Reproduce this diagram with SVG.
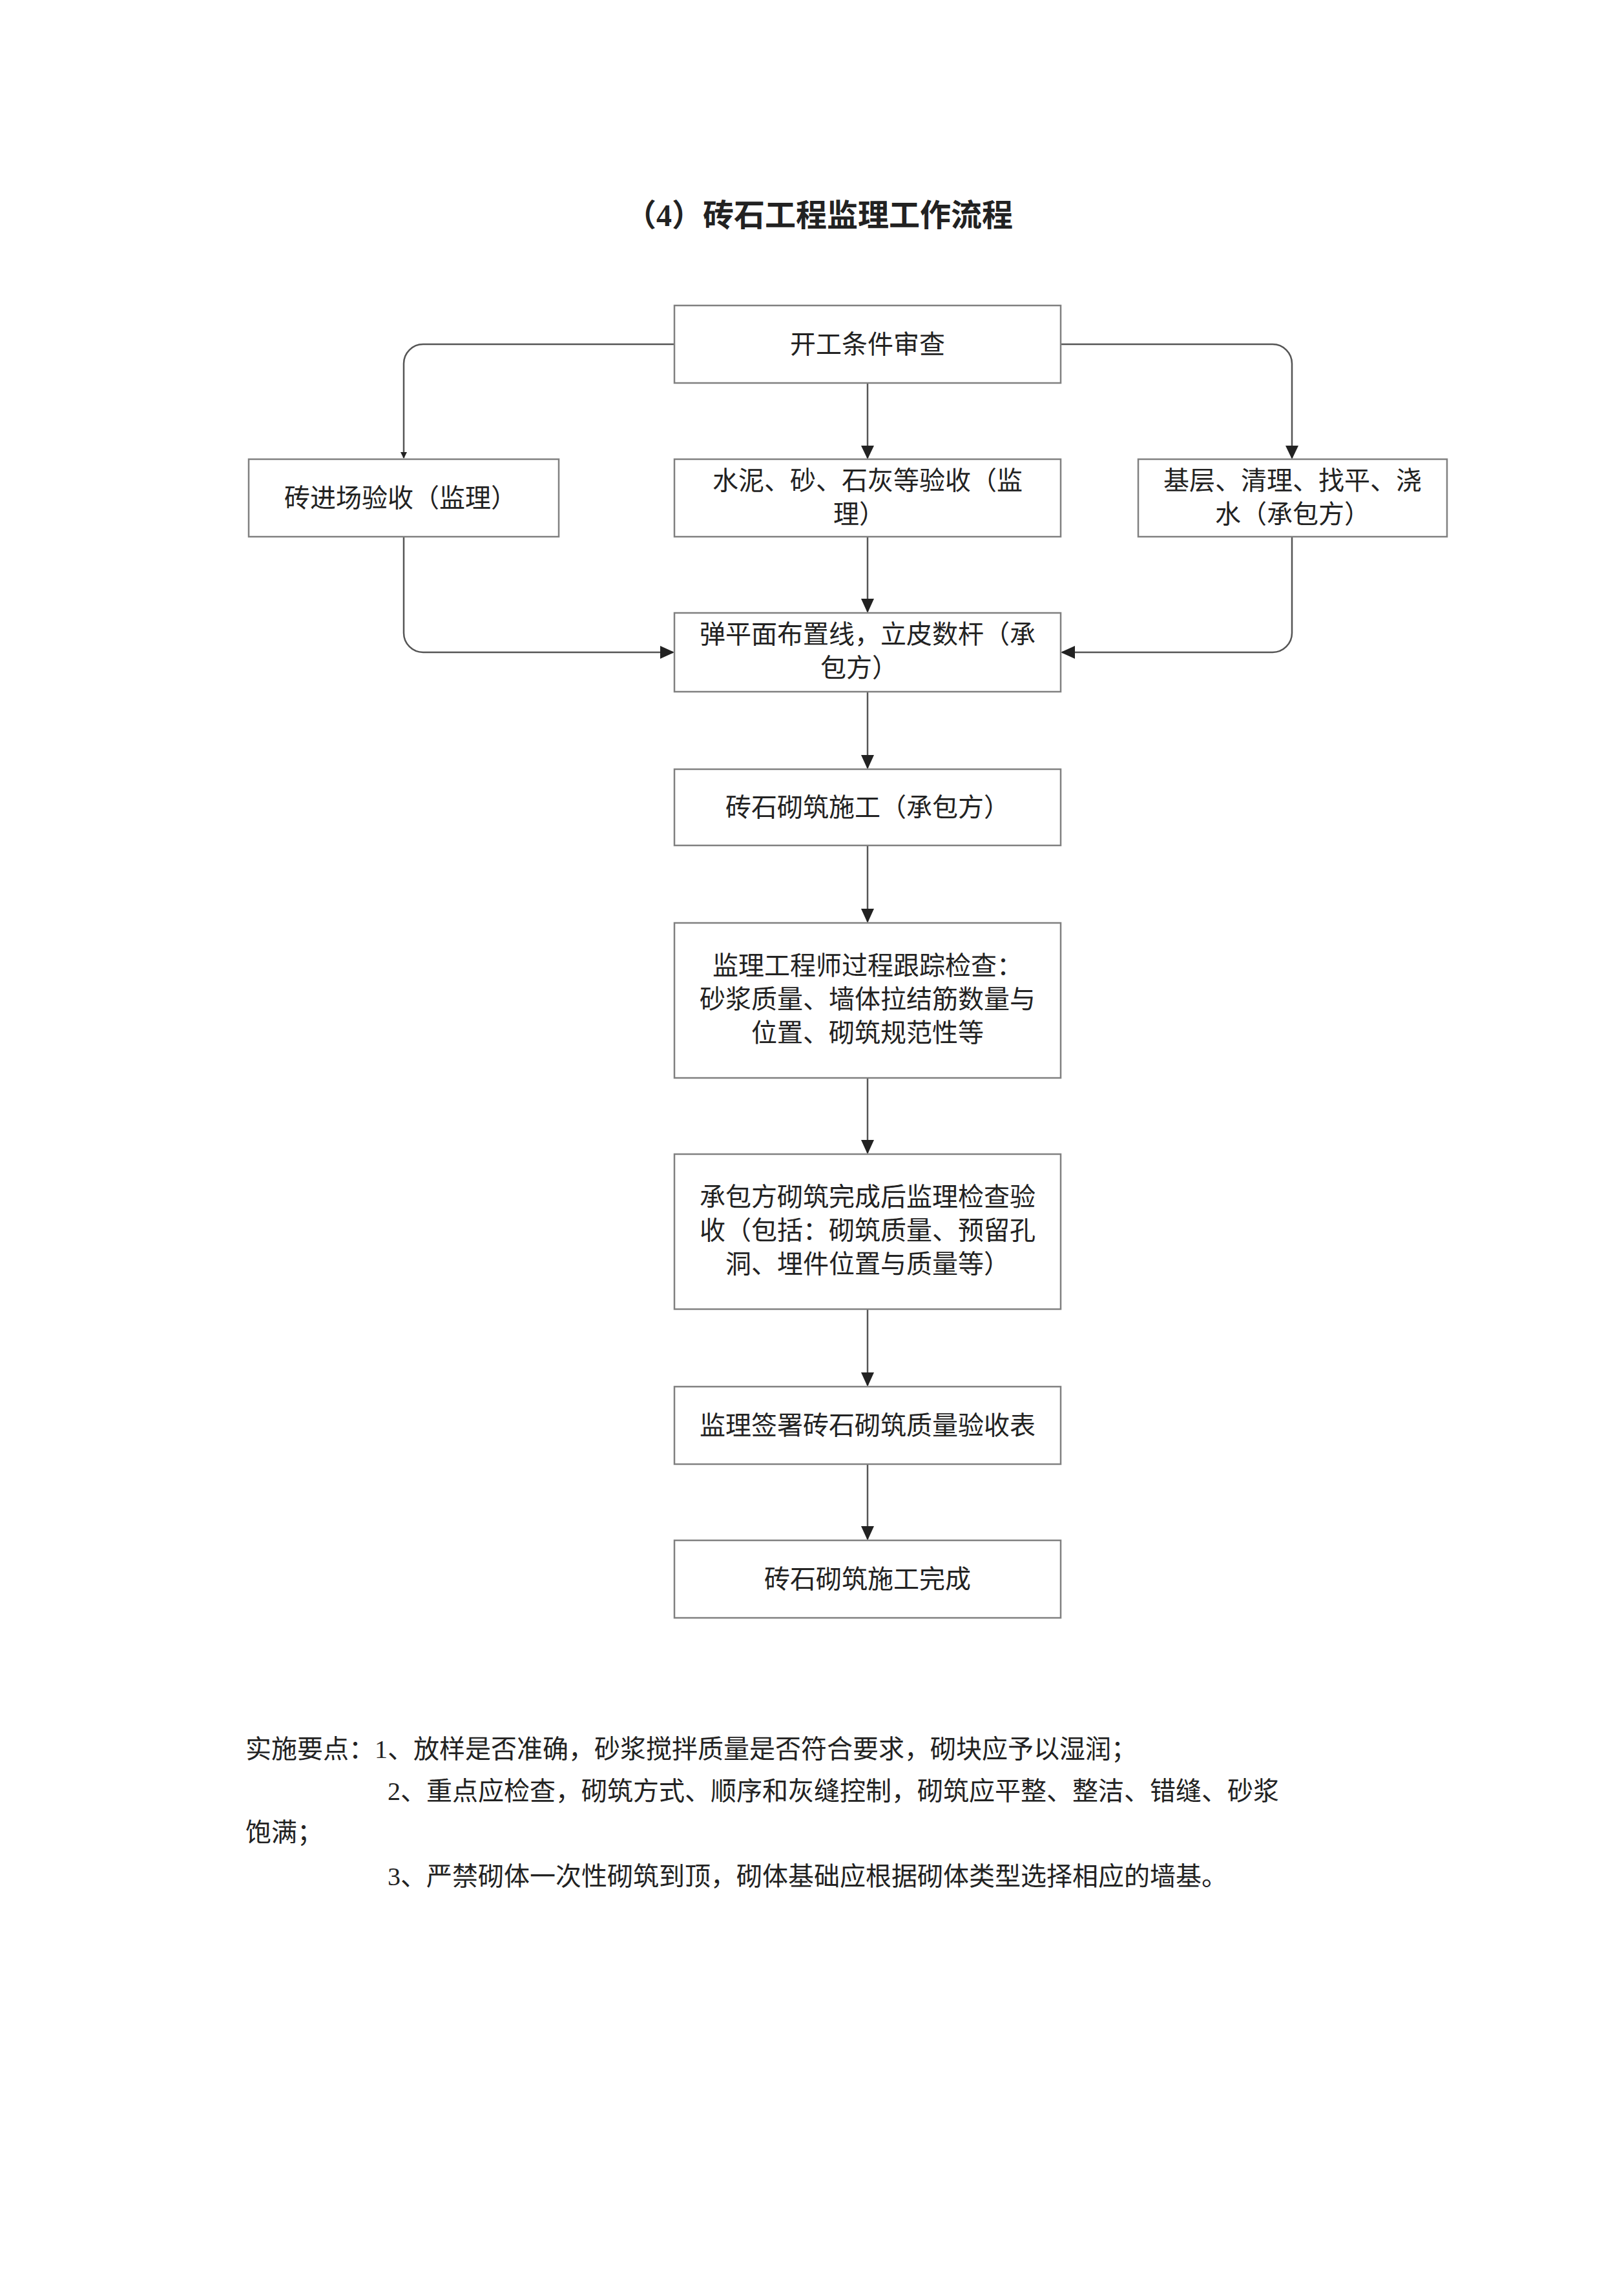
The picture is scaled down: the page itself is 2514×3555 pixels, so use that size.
<svg xmlns="http://www.w3.org/2000/svg" width="2514" height="3555" viewBox="0 0 2514 3555">
<style>
.b{fill:#fff;stroke:#808080;stroke-width:2.5}
.t{font-family:"Liberation Serif","Noto Sans CJK SC",serif;font-size:40px;fill:#222;text-anchor:middle}
.n{font-family:"Liberation Serif","Noto Sans CJK SC",serif;font-size:40px;fill:#222}
.c{fill:none;stroke:#555;stroke-width:2.5}
</style>
<defs><marker id="a" markerWidth="10" markerHeight="10" refX="9" refY="5" orient="auto" markerUnits="userSpaceOnUse" viewBox="0 0 10 10"><path d="M0,0L10,5L0,10z" fill="#222"/></marker></defs>
<rect width="2514" height="3555" fill="#fff"/>
<text x="1268" y="350" class="t" style="font-size:48px;font-weight:bold">（4）砖石工程监理工作流程</text>
<g id="connectors">
<path class="c" d="M1044,533H655A30,30 0 0 0 625,563V709" marker-end="url(#a)" style="stroke-width:2.5"/>
<path class="c" d="M1642,533H1970A30,30 0 0 1 2000,563V709"/>
<path class="c" d="M1990,690L2000,711L2010,690" style="fill:#222;stroke:none"/>
<path class="c" d="M1343,593V709"/>
<path class="c" d="M1333,690L1343,711L1353,690" style="fill:#222;stroke:none"/>
<path class="c" d="M625,831V980A30,30 0 0 0 655,1010H1042"/>
<path class="c" d="M1022,1000L1044,1010L1022,1020" style="fill:#222;stroke:none"/>
<path class="c" d="M2000,831V980A30,30 0 0 1 1970,1010H1644"/>
<path class="c" d="M1664,1000L1642,1010L1664,1020" style="fill:#222;stroke:none"/>
<path class="c" d="M1343,831V947"/>
<path class="c" d="M1333,927L1343,949L1353,927" style="fill:#222;stroke:none"/>
<path class="c" d="M1343,1071V1189"/>
<path class="c" d="M1333,1169L1343,1191L1353,1169" style="fill:#222;stroke:none"/>
<path class="c" d="M1343,1309V1427"/>
<path class="c" d="M1333,1407L1343,1429L1353,1407" style="fill:#222;stroke:none"/>
<path class="c" d="M1343,1669V1785"/>
<path class="c" d="M1333,1765L1343,1787L1353,1765" style="fill:#222;stroke:none"/>
<path class="c" d="M1343,2027V2145"/>
<path class="c" d="M1333,2125L1343,2147L1353,2125" style="fill:#222;stroke:none"/>
<path class="c" d="M1343,2267V2383"/>
<path class="c" d="M1333,2363L1343,2385L1353,2363" style="fill:#222;stroke:none"/>
</g>
<g id="n1"><rect class="b" x="1044" y="473" width="598" height="120"/><text class="t" x="1343" y="547">开工条件审查</text></g>
<g id="n2"><rect class="b" x="385" y="711" width="480" height="120"/><text class="t" x="620" y="785">砖进场验收（监理）</text></g>
<g id="n3"><rect class="b" x="1044" y="711" width="598" height="120"/><text class="t" x="1343" y="758">水泥、砂、石灰等验收（监</text><text class="t" x="1330" y="810">理）</text></g>
<g id="n4"><rect class="b" x="1762" y="711" width="478" height="120"/><text class="t" x="2001" y="758">基层、清理、找平、浇</text><text class="t" x="2001" y="810">水（承包方）</text></g>
<g id="n5"><rect class="b" x="1044" y="949" width="598" height="122"/><text class="t" x="1343" y="996">弹平面布置线，立皮数杆（承</text><text class="t" x="1330" y="1048">包方）</text></g>
<g id="n6"><rect class="b" x="1044" y="1191" width="598" height="118"/><text class="t" x="1343" y="1264">砖石砌筑施工（承包方）</text></g>
<g id="n7"><rect class="b" x="1044" y="1429" width="598" height="240"/><text class="t" x="1343" y="1509">监理工程师过程跟踪检查：</text><text class="t" x="1343" y="1561">砂浆质量、墙体拉结筋数量与</text><text class="t" x="1343" y="1613">位置、砌筑规范性等</text></g>
<g id="n8"><rect class="b" x="1044" y="1787" width="598" height="240"/><text class="t" x="1343" y="1867">承包方砌筑完成后监理检查验</text><text class="t" x="1343" y="1919">收（包括：砌筑质量、预留孔</text><text class="t" x="1343" y="1971">洞、埋件位置与质量等）</text></g>
<g id="n9"><rect class="b" x="1044" y="2147" width="598" height="120"/><text class="t" x="1343" y="2221">监理签署砖石砌筑质量验收表</text></g>
<g id="n10"><rect class="b" x="1044" y="2385" width="598" height="120"/><text class="t" x="1343" y="2459">砖石砌筑施工完成</text></g>
<g id="notes">
<text class="n" x="380" y="2722">实施要点：1、放样是否准确，砂浆搅拌质量是否符合要求，砌块应予以湿润；</text>
<text class="n" x="600" y="2787">2、重点应检查，砌筑方式、顺序和灰缝控制，砌筑应平整、整洁、错缝、砂浆</text>
<text class="n" x="380" y="2851">饱满；</text>
<text class="n" x="600" y="2919">3、严禁砌体一次性砌筑到顶，砌体基础应根据砌体类型选择相应的墙基。</text>
</g>
</svg>
